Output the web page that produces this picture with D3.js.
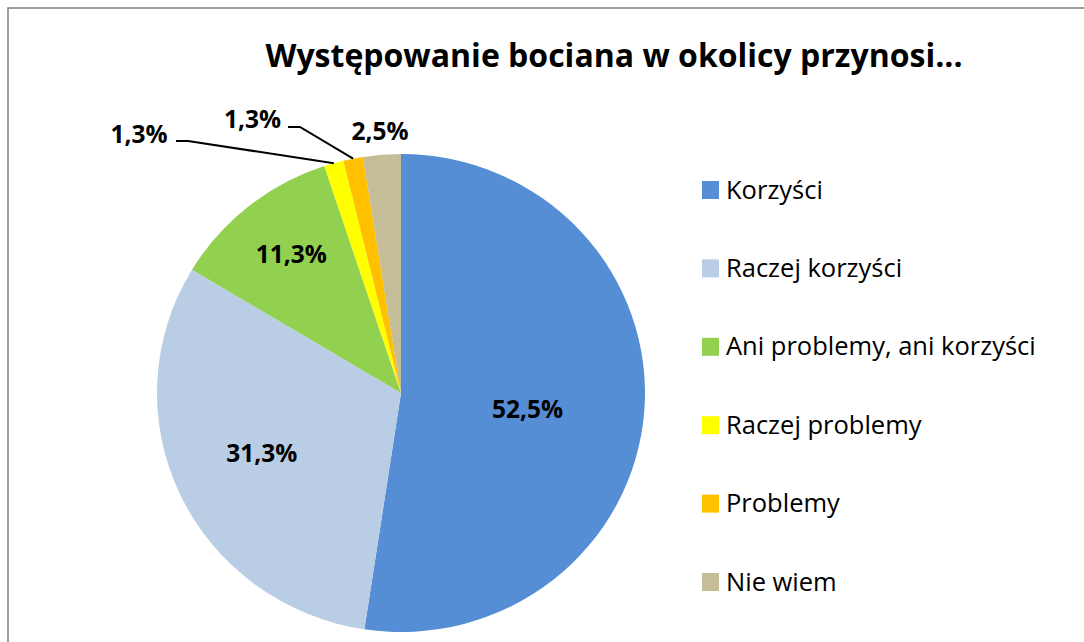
<!DOCTYPE html>
<html><head><meta charset="utf-8">
<script src="https://cdn.jsdelivr.net/npm/d3@7"></script>
<style>body{margin:0;background:#fff}svg{display:block}</style>
</head><body>
<svg id="c" width="1084" height="642"></svg>
<script>
const categories = ["Korzyści","Raczej korzyści","Ani problemy, ani korzyści","Raczej problemy","Problemy","Nie wiem"];
const values = [52.5, 31.3, 11.3, 1.3, 1.3, 2.5];
const labels = ["52,5%","31,3%","11,3%","1,3%","1,3%","2,5%"];
const colors = ["#558ED5","#B9CDE5","#92D050","#FFFF00","#FFC000","#C4BD97"];
const title = "Występowanie bociana w okolicy przynosi...";

const W = 1084, H = 642;
const cx = 401, cy = 393, R = 239, sx = 244/239;
const font = "'Open Sans', sans-serif";

const svg = d3.select("#c");
svg.append("rect").attr("x",8).attr("y",8).attr("width",W).attr("height",H)
  .attr("fill","#fff").attr("stroke","#888").attr("stroke-width",1.6);

svg.append("text").attr("x",614).attr("y",67).attr("text-anchor","middle")
  .attr("font-family",font).attr("font-weight","bold").attr("font-size",32)
  .attr("fill","#000").text(title);

const pie = d3.pie().sort(null).value(d=>d);
const arcs = pie(values);
const arc = d3.arc().innerRadius(0).outerRadius(R);
const g = svg.append("g").attr("transform",`translate(${cx},${cy}) scale(${sx},1)`);
g.selectAll("path").data(arcs).join("path")
  .attr("d",arc).attr("fill",(d,i)=>colors[i]);

// label layout: [radius factor along mid-angle, baseline shift]; null = outside label with leader
const labelLayout = [[0.52,15.5],[0.63,5],[0.72,4],null,null,[1.1,9]];
const outside = {3:{x:139,y:143,lx:[176,188],ly:141}, 4:{x:252.5,y:128,lx:[288,300],ly:127}};
const lbl = svg.append("g").attr("font-family",font).attr("font-weight","bold").attr("font-size",24.5).attr("fill","#000");
arcs.forEach((d,i)=>{
  const mid = (d.startAngle+d.endAngle)/2;
  let x, y;
  if (labelLayout[i]!==null){
    const r = R*labelLayout[i][0];
    x = cx + sx*r*Math.sin(mid); y = cy - r*Math.cos(mid) + labelLayout[i][1];
  } else {
    const o = outside[i];
    x = o.x; y = o.y;
    const ex = cx + sx*R*Math.sin(mid), ey = cy - R*Math.cos(mid);
    svg.append("polyline").attr("points",`${o.lx[0]},${o.ly} ${o.lx[1]},${o.ly} ${ex},${ey}`)
      .attr("fill","none").attr("stroke","#000").attr("stroke-width",2);
  }
  lbl.append("text").attr("x",x).attr("y",y).attr("text-anchor","middle").text(labels[i]);
});

const lg = svg.append("g").attr("font-family",font).attr("font-size",25.5).attr("fill","#000");
categories.forEach((c,i)=>{
  const y = 190 + i*78.4;
  lg.append("rect").attr("x",702).attr("y",y-9).attr("width",17).attr("height",18).attr("fill",colors[i]);
  lg.append("text").attr("x",726).attr("y",y+8.5).text(c);
});
</script>
</body></html>
